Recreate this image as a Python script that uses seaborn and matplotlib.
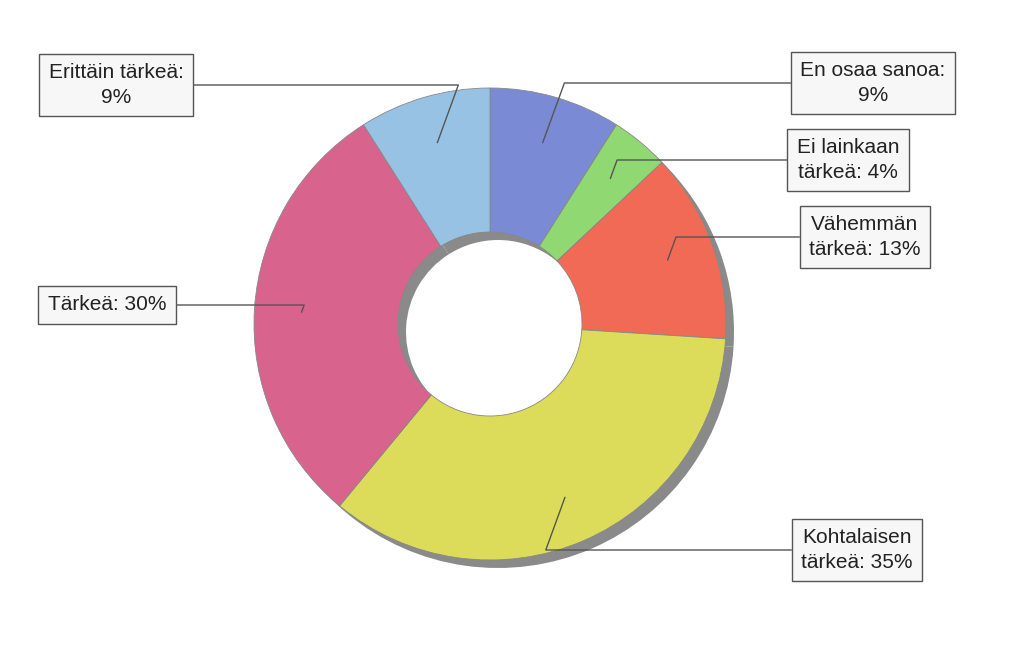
import numpy as np
import matplotlib
matplotlib.use('Agg')
import matplotlib.pyplot as plt
import seaborn as sns

labels = ["En osaa sanoa:\n9%", "Ei lainkaan\ntärkeä: 4%", "Vähemmän\ntärkeä: 13%",
          "Kohtalaisen\ntärkeä: 35%", "Tärkeä: 30%", "Erittäin tärkeä:\n9%"]
values = [9, 4, 13, 35, 30, 9]
colors = ["#7b8ad4", "#8fd872", "#f06a55", "#dcdc5a", "#d8648e", "#98c2e4"]
# box centres in pixel coords (x, y from top)
box_pos = [(873, 83), (848, 160), (865, 237), (857, 550), (107, 305), (116, 85)]

sns.set_style("white")
plt.rcParams['font.family'] = ['Liberation Sans', 'DejaVu Sans']

fig = plt.figure(figsize=(10.23, 6.49), dpi=100)
ax = fig.add_axes([0, 0, 1, 1])
ax.set_xlim(0, 1023)
ax.set_ylim(0, 649)
ax.set_aspect('equal')
ax.axis('off')

cx, cy, R = 490, 649 - 324, 236
width = 1 - 92 / R

# shadow
ax.pie(values, radius=R, center=(cx + 8, cy - 8), startangle=90, counterclock=False,
       colors=['#8a8a8a'] * len(values), wedgeprops=dict(width=R * width, linewidth=0))
wedges, _ = ax.pie(values, radius=R, center=(cx, cy), startangle=90, counterclock=False,
                   colors=colors, wedgeprops=dict(width=R * width, edgecolor='#888888', linewidth=0.6))
ax.set_xlim(0, 1023)
ax.set_ylim(0, 649)

for w, lab, (bx, by) in zip(wedges, labels, box_pos):
    ang = np.deg2rad((w.theta1 + w.theta2) / 2)
    r = R * 0.8
    px, py = cx + r * np.cos(ang), cy + r * np.sin(ang)
    ax.annotate(lab, xy=(px, py), xytext=(bx, 649 - by), ha='center', va='center',
                fontsize=15, color='#222222', linespacing=1.35,
                bbox=dict(boxstyle='square,pad=0.45', fc='#f7f7f7', ec='#555555', lw=1),
                arrowprops=dict(arrowstyle='-', color='#555555', lw=1,
                                connectionstyle='angle,angleA=0,angleB=70', shrinkA=0, shrinkB=0))

fig.savefig('out.png', dpi=100)
